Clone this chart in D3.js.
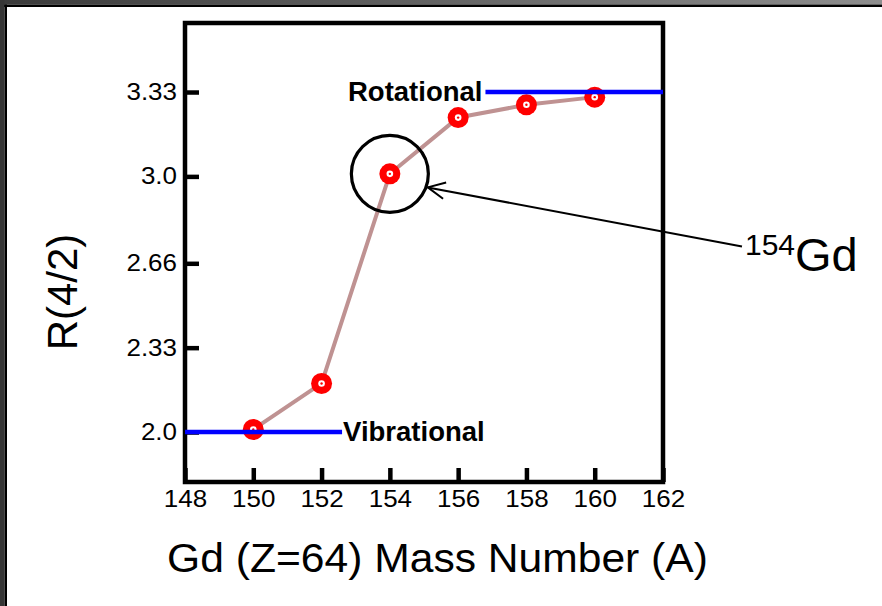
<!DOCTYPE html>
<html>
<head>
<meta charset="utf-8">
<script src="https://cdn.jsdelivr.net/npm/d3@7"></script>
<style>
  html, body { margin: 0; padding: 0; background: #fff; }
  svg { display: block; }
  text { font-family: "Liberation Sans", Arial, Helvetica, sans-serif; fill: #000; }
</style>
</head>
<body>
<svg id="chart" width="882" height="606"></svg>
<script>
// R(4/2) = E(4+)/E(2+) ratio across the gadolinium isotopes
const massNumbers = [150, 152, 154, 156, 158, 160];
const ratios = [2.01, 2.19, 3.01, 3.23, 3.28, 3.31];

const xTicks = [148, 150, 152, 154, 156, 158, 160, 162];
const yTicks = [2.0, 2.33, 2.66, 3.0, 3.33];
const yTickLabels = ["2.0", "2.33", "2.66", "3.0", "3.33"];

// limiting values: harmonic vibrator and rigid rotor
const vibrationalLimit = { value: 2.0, from: 148, to: 152.6, label: "Vibrational" };
const rotationalLimit = { value: 3.33, from: 156.8, to: 162, label: "Rotational" };

const highlighted = { mass: 154, label: "Gd" };

const svg = d3.select("#chart");
const W = 882, H = 606;

// page frame
const defs = svg.append("defs");
const grad = defs.append("linearGradient").attr("id", "topband")
  .attr("x1", "0%").attr("x2", "100%").attr("y1", "0%").attr("y2", "0%");
grad.append("stop").attr("offset", "0%").attr("stop-color", "#3a3a3a");
grad.append("stop").attr("offset", "100%").attr("stop-color", "#8e8e8e");
svg.append("rect").attr("x", 0).attr("y", 0).attr("width", W).attr("height", H).attr("fill", "#fff");
svg.append("rect").attr("x", 0).attr("y", 0).attr("width", W).attr("height", 4.5).attr("fill", "url(#topband)");
svg.append("rect").attr("x", 0).attr("y", 4.5).attr("width", W).attr("height", 2.5).attr("fill", "#000");
svg.append("rect").attr("x", 0).attr("y", 0).attr("width", 4.5).attr("height", H).attr("fill", "#363636");
svg.append("rect").attr("x", 4.5).attr("y", 4.5).attr("width", 2.5).attr("height", H).attr("fill", "#000");

const plot = { left: 185, right: 663, top: 23, bottom: 482 };

const x = d3.scaleLinear().domain([148, 162]).range([plot.left, plot.right]);
const y = d3.scaleLinear().domain([1.8045, 3.6]).range([plot.bottom, plot.top]);

const tickFont = 23;
const tickStretch = 1.13;

// y axis, ticks pointing inward
const yAxis = svg.append("g")
  .attr("transform", `translate(${plot.left},0)`)
  .call(d3.axisLeft(y).tickValues(yTicks)
    .tickFormat((d, i) => yTickLabels[i])
    .tickSize(-14).tickPadding(8));
yAxis.select(".domain").remove();
yAxis.selectAll(".tick line").attr("stroke", "#000").attr("stroke-width", 4.5);
yAxis.selectAll(".tick text")
  .attr("font-size", tickFont).attr("font-family", null).attr("fill", "#111")
  .attr("x", 0)
  .attr("transform", `translate(-8,0) scale(${tickStretch},1)`);

// x axis, ticks pointing inward
const xAxis = svg.append("g")
  .attr("transform", `translate(0,${plot.bottom})`)
  .call(d3.axisBottom(x).tickValues(xTicks).tickFormat(d3.format("d"))
    .tickSize(-14).tickPadding(9));
xAxis.select(".domain").remove();
xAxis.selectAll(".tick line").attr("stroke", "#000").attr("stroke-width", 4.5);
xAxis.selectAll(".tick text")
  .attr("font-size", tickFont).attr("font-family", null).attr("fill", "#111")
  .attr("transform", `scale(${tickStretch},1)`);

// plot frame
svg.append("rect")
  .attr("x", plot.left).attr("y", plot.top)
  .attr("width", plot.right - plot.left).attr("height", plot.bottom - plot.top)
  .attr("fill", "none").attr("stroke", "#000").attr("stroke-width", 4.5);

// connecting line
const pts = massNumbers.map((m, i) => [m, ratios[i]]);
svg.append("path")
  .datum(pts)
  .attr("fill", "none")
  .attr("stroke", "#bf9292")
  .attr("stroke-width", 4)
  .attr("stroke-linejoin", "round")
  .attr("d", d3.line().x(d => x(d[0])).y(d => y(d[1])));

// markers
const marks = svg.append("g").selectAll("g").data(pts).join("g")
  .attr("transform", d => `translate(${x(d[0])},${y(d[1])})`);
marks.append("circle").attr("r", 10.5).attr("fill", "#ff0000");
marks.append("circle").attr("r", 3.3).attr("fill", "#fff");
marks.append("circle").attr("r", 1.2).attr("fill", "#ff0000");

// limit lines and labels
function limit(l) {
  svg.append("line")
    .attr("x1", x(l.from)).attr("x2", x(l.to))
    .attr("y1", y(l.value)).attr("y2", y(l.value))
    .attr("stroke", "#0000ff").attr("stroke-width", 4.5);
}
limit(vibrationalLimit);
limit(rotationalLimit);
svg.append("text")
  .attr("x", x(vibrationalLimit.to) + 1).attr("y", y(vibrationalLimit.value) + 8.5)
  .attr("font-size", 27.5).attr("font-weight", "bold").attr("fill", "#111")
  .text(vibrationalLimit.label);
svg.append("text")
  .attr("x", x(rotationalLimit.from) - 3).attr("y", y(rotationalLimit.value) + 8.5)
  .attr("text-anchor", "end")
  .attr("font-size", 27.5).attr("font-weight", "bold").attr("fill", "#111")
  .text(rotationalLimit.label);

// highlight ring around the 154Gd point
const hi = ratios[massNumbers.indexOf(highlighted.mass)];
const cx = x(highlighted.mass), cy = y(hi);
const ringR = 38.5;
svg.append("circle")
  .attr("cx", cx).attr("cy", cy).attr("r", ringR)
  .attr("fill", "none").attr("stroke", "#000").attr("stroke-width", 3.2);

// isotope label with pointer
const labelX = 745, labelBase = 270.5;
const lbl = svg.append("text").attr("x", labelX).attr("y", labelBase);
lbl.append("tspan").attr("font-size", 30).attr("dy", -15.5).text(highlighted.mass);
lbl.append("tspan").attr("font-size", 47).attr("dy", 15.5).text(highlighted.label);

const start = [labelX - 3, labelBase - 24];
const ang = Math.atan2(start[1] - cy, start[0] - cx);
const tipAng = ang + 0.14;
const tip = [cx + (ringR + 1.8) * Math.cos(tipAng), cy + (ringR + 1.8) * Math.sin(tipAng)];
svg.append("line")
  .attr("x1", start[0]).attr("y1", start[1]).attr("x2", tip[0]).attr("y2", tip[1])
  .attr("stroke", "#000").attr("stroke-width", 2);
const dir = Math.atan2(start[1] - tip[1], start[0] - tip[0]);
const wing = 19, spread = 0.45;
svg.append("path")
  .attr("d", `M${tip[0] + wing * Math.cos(dir - spread)},${tip[1] + wing * Math.sin(dir - spread)}` +
             `L${tip[0]},${tip[1]}` +
             `L${tip[0] + wing * Math.cos(dir + spread)},${tip[1] + wing * Math.sin(dir + spread)}`)
  .attr("fill", "none").attr("stroke", "#000").attr("stroke-width", 2);

// axis titles
svg.append("text")
  .attr("text-anchor", "middle")
  .attr("font-size", 40)
  .attr("transform", `translate(437.5,571.5) scale(1.065,1)`)
  .text("Gd (Z=64) Mass Number (A)");
svg.append("text")
  .attr("text-anchor", "middle")
  .attr("font-size", 42)
  .attr("transform", "translate(77,292) rotate(-90)")
  .text("R(4/2)");
</script>
</body>
</html>
